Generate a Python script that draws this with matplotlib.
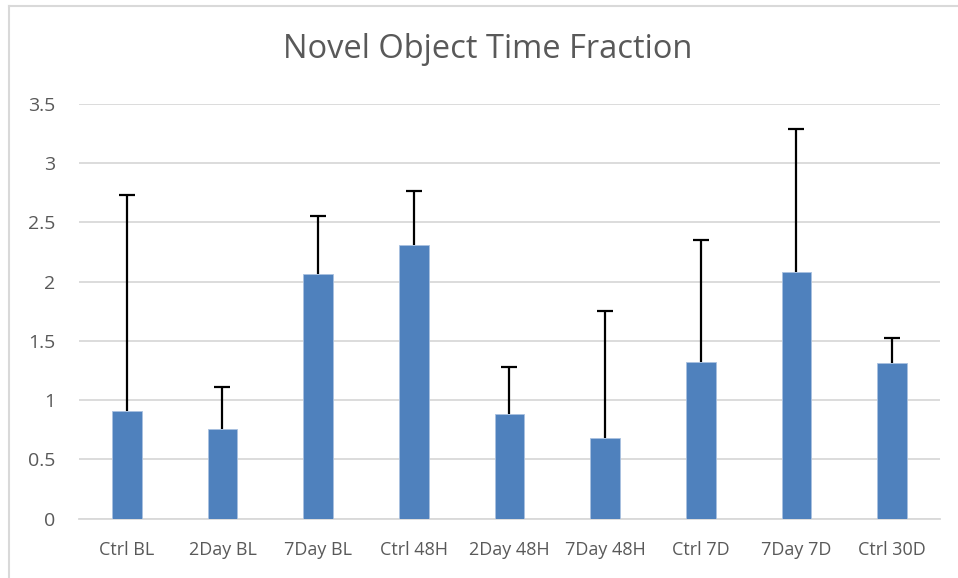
import matplotlib
matplotlib.use('Agg')
import matplotlib.pyplot as plt
from matplotlib.lines import Line2D
import numpy as np

# ── Data ───────────────────────────────────────────────────────────────────
groups = ['Ctrl BL', '2Day BL', '7Day BL', 'Ctrl 48H', '2Day 48H',
          '7Day 48H', 'Ctrl 7D', '7Day 7D', 'Ctrl 30D']
means = [0.91, 0.76, 2.06, 2.31, 0.88, 0.68, 1.32, 2.08, 1.31]
errors = [1.82, 0.35, 0.49, 0.45, 0.40, 1.07, 1.03, 1.21, 0.21]
yticks = [0, 0.5, 1, 1.5, 2, 2.5, 3, 3.5]
ytick_labels = ['0', '0.5', '1', '1.5', '2', '2.5', '3', '3.5']

# ── Theme ──────────────────────────────────────────────────────────────────
BAR = '#4f81bd'
GRID = '#d9d9d9'
TEXT = '#595959'

plt.rcParams['font.family'] = ['Open Sans', 'DejaVu Sans']

fig = plt.figure(figsize=(9.58, 5.78), dpi=100)
ax = fig.add_axes([0.0825, 0.1026, 0.8985, 0.718])

x = np.arange(len(groups))
ax.bar(x, means, width=0.31, color=BAR, edgecolor='#a9c1e0', linewidth=0.6,
       zorder=3)
# upper-only error bars
eb = ax.errorbar(x, means, yerr=[np.zeros(len(errors)), errors], fmt='none',
                 ecolor='black', elinewidth=1.6, capsize=6, capthick=1.6,
                 zorder=4)
eb[1][0].set_visible(False)   # hide the lower caps

ax.set_xlim(-0.5, len(groups) - 0.5)
ax.set_ylim(0, 3.5)
ax.set_yticks(yticks)
ax.set_yticklabels(ytick_labels)
ax.set_xticks(x)
ax.set_xticklabels(groups)
ax.tick_params(axis='both', length=0, colors=TEXT)
ax.tick_params(axis='x', pad=16, labelsize=13)
ax.tick_params(axis='y', pad=17, labelsize=14)

ax.grid(axis='y', color=GRID, linewidth=1.3, zorder=0)
for s in ['top', 'right', 'left']:
    ax.spines[s].set_visible(False)
ax.spines['bottom'].set_color(GRID)
ax.spines['bottom'].set_linewidth(1.3)
ax.spines['bottom'].set_zorder(1)

fig.text(488 / 958, 1 - 49 / 578, 'Novel Object Time Fraction', ha='center',
         va='center', fontsize=23.5, color=TEXT)

# chart-area border (only top and left edges are visible in the crop)
fig.add_artist(Line2D([9 / 958, 1], [1 - 5.5 / 578] * 2, color=GRID,
                      linewidth=1.5, transform=fig.transFigure))
fig.add_artist(Line2D([9 / 958] * 2, [0, 1 - 5.5 / 578], color=GRID,
                      linewidth=1.5, transform=fig.transFigure))

plt.savefig('out.png', dpi=100)
plt.close()
